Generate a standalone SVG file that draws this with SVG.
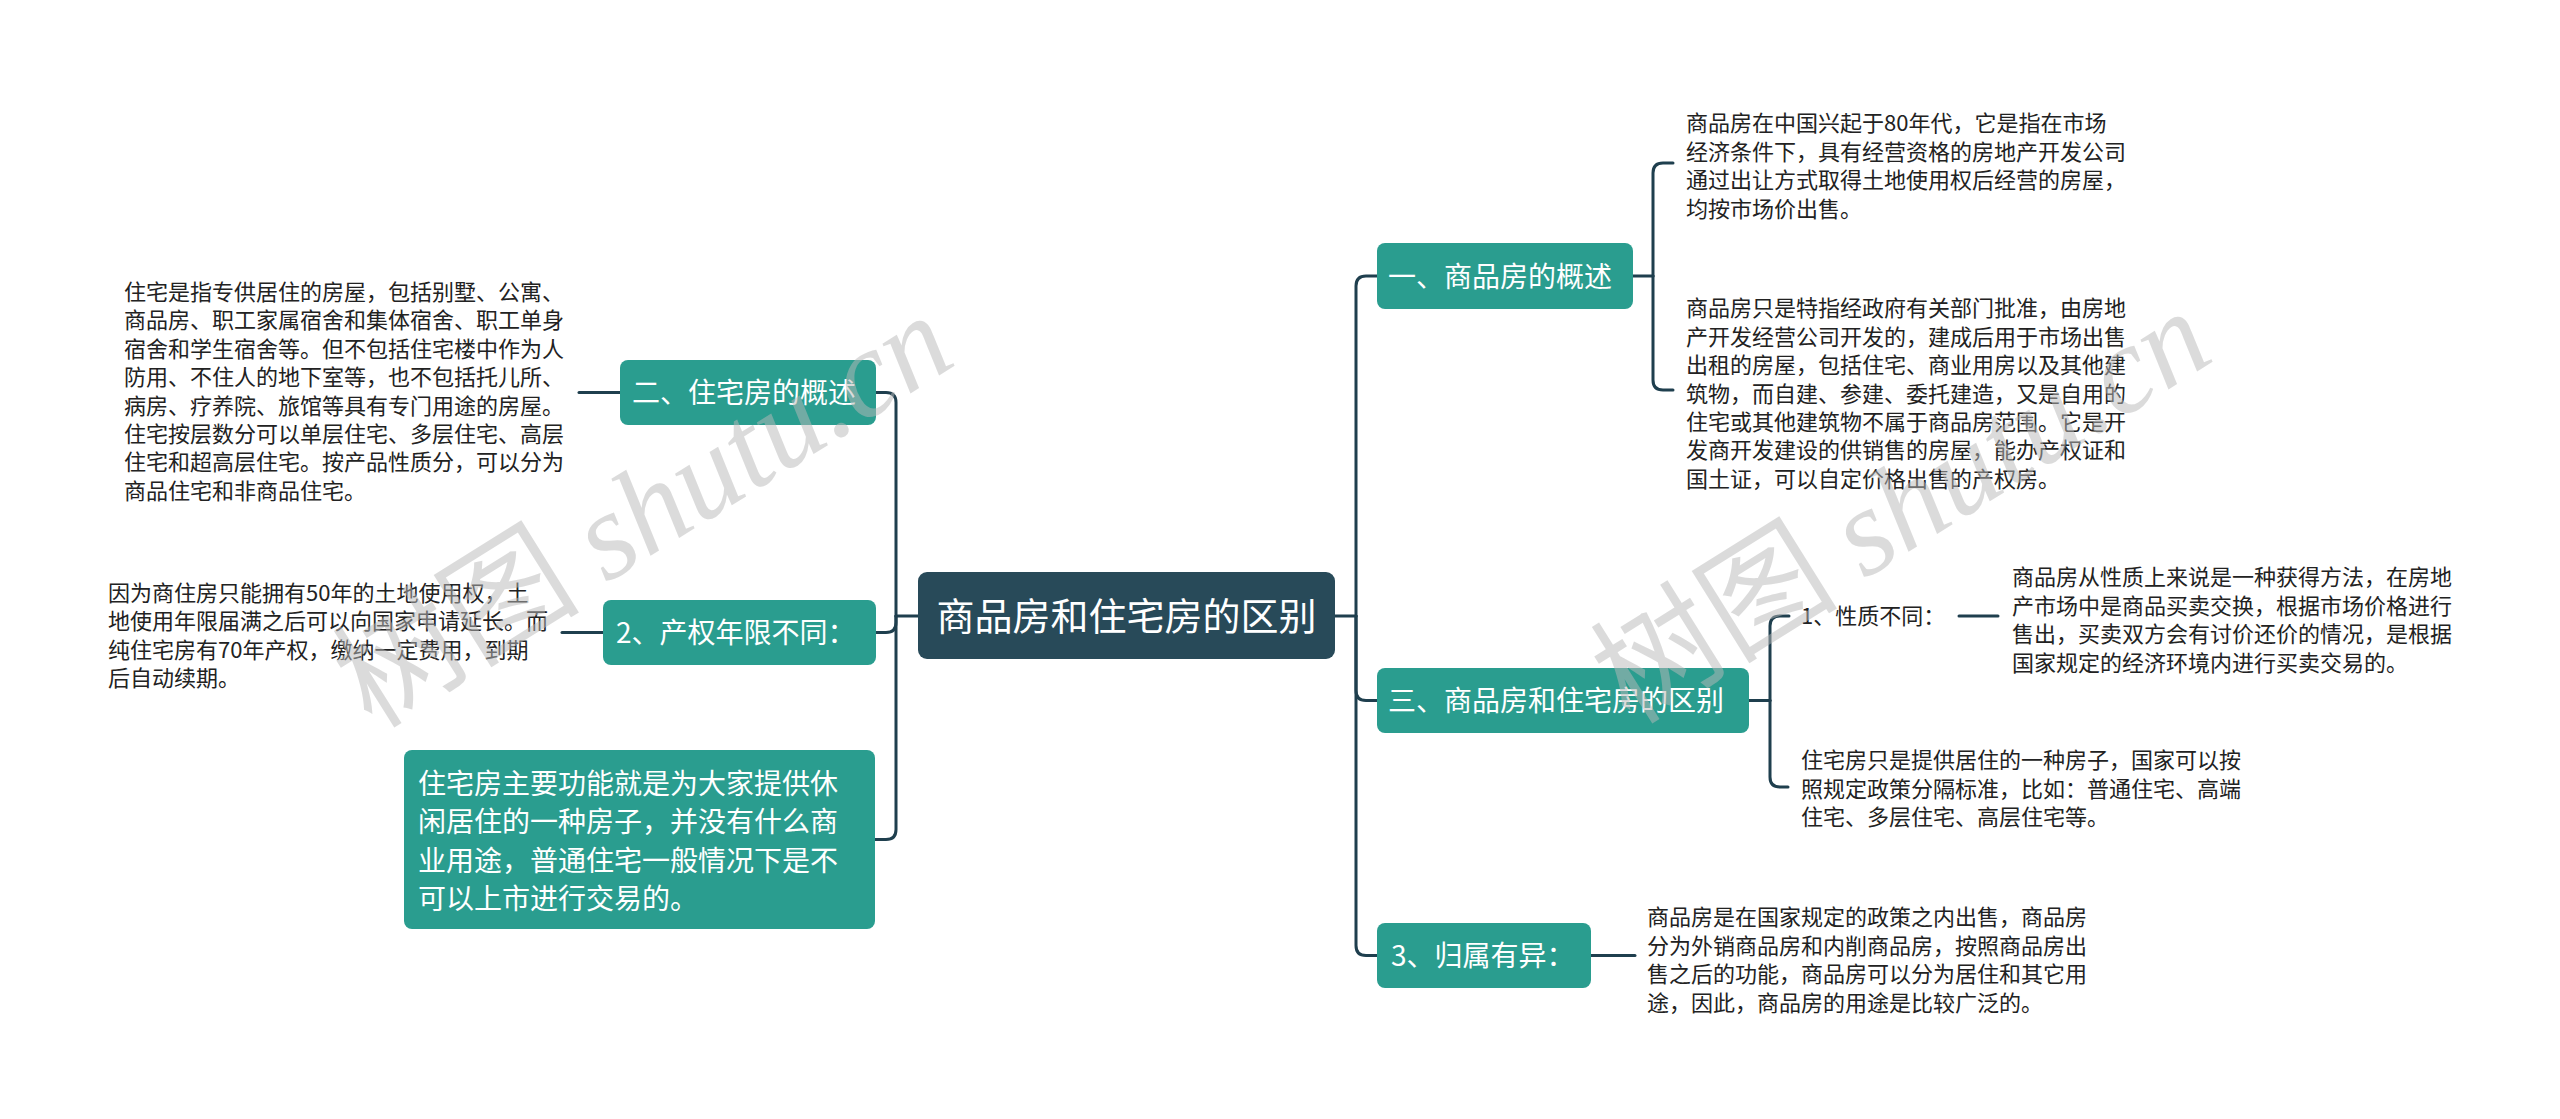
<svg xmlns="http://www.w3.org/2000/svg" width="2560" height="1119" viewBox="0 0 2560 1119">
<style>
.t{font-family:"Noto Sans CJK SC","Noto Sans",sans-serif;font-size:22px;fill:#222}
.n{fill:#2a9d8f}
.nt{font-family:"Noto Sans CJK SC","Noto Sans",sans-serif;font-size:28px;fill:#fff}
.c{fill:none;stroke:#1f3f4e;stroke-width:3;stroke-linecap:round}
.wm{font-size:124px;fill:#b9b9b9;opacity:0.5}
</style>
<rect width="2560" height="1119" fill="#fff"/>
<g id="connectors">
<path class="c" d="M918,616 H896"/>
<path class="c" d="M896,616 V402.5 Q896,392.5 886,392.5 H876"/>
<path class="c" d="M896,616 V622.5 Q896,632.5 886,632.5 H876"/>
<path class="c" d="M896,616 V829.5 Q896,839.5 886,839.5 H875"/>
<path class="c" d="M620,392.5 H579"/>
<path class="c" d="M603,632.5 H562"/>
<path class="c" d="M1335,616 H1356"/>
<path class="c" d="M1356,616 V286 Q1356,276 1366,276 H1377"/>
<path class="c" d="M1356,616 V690.5 Q1356,700.5 1366,700.5 H1377"/>
<path class="c" d="M1356,616 V945.5 Q1356,955.5 1366,955.5 H1377"/>
<path class="c" d="M1633,276 H1653"/>
<path class="c" d="M1653,276 V173 Q1653,163 1663,163 H1673"/>
<path class="c" d="M1653,276 V380 Q1653,390 1663,390 H1673"/>
<path class="c" d="M1749,700.5 H1770"/>
<path class="c" d="M1770,700.5 V626 Q1770,616 1780,616 H1789"/>
<path class="c" d="M1770,700.5 V777 Q1770,787 1780,787 H1788"/>
<path class="c" d="M1959,616 H1998"/>
<path class="c" d="M1591,955.5 H1635"/>
</g>
<g id="central">
<rect x="918" y="572" width="417" height="87" rx="9" fill="#284a59"/>
<text x="1126.5" y="630" text-anchor="middle" font-family="Noto Sans CJK SC, sans-serif" font-size="38" fill="#fff">商品房和住宅房的区别</text>
</g>
<g id="n-er">
<rect class="n" x="620" y="360" width="256" height="65" rx="8"/>
<text class="nt" x="632" y="403">二、住宅房的概述</text>
</g>
<g id="n-er-text">
<text class="t" x="124"><tspan x="124" y="300">住宅是指专供居住的房屋，包括别墅、公寓、</tspan><tspan x="124" y="328.4">商品房、职工家属宿舍和集体宿舍、职工单身</tspan><tspan x="124" y="356.8">宿舍和学生宿舍等。但不包括住宅楼中作为人</tspan><tspan x="124" y="385.2">防用、不住人的地下室等，也不包括托儿所、</tspan><tspan x="124" y="413.6">病房、疗养院、旅馆等具有专门用途的房屋。</tspan><tspan x="124" y="442">住宅按层数分可以单层住宅、多层住宅、高层</tspan><tspan x="124" y="470.4">住宅和超高层住宅。按产品性质分，可以分为</tspan><tspan x="124" y="498.8">商品住宅和非商品住宅。</tspan></text>
</g>
<g id="n-2">
<rect class="n" x="603" y="600" width="273" height="65" rx="8"/>
<text class="nt" x="616" y="643">2、产权年限不同：</text>
</g>
<g id="n-2-text">
<text class="t"><tspan x="108" y="601">因为商住房只能拥有50年的土地使用权，土</tspan><tspan x="108" y="629.4">地使用年限届满之后可以向国家申请延长。而</tspan><tspan x="108" y="657.8">纯住宅房有70年产权，缴纳一定费用，到期</tspan><tspan x="108" y="686.2">后自动续期。</tspan></text>
</g>
<g id="n-big">
<rect class="n" x="404" y="750" width="471" height="179" rx="8"/>
<text class="nt"><tspan x="418" y="793.6">住宅房主要功能就是为大家提供休</tspan><tspan x="418" y="832.1">闲居住的一种房子，并没有什么商</tspan><tspan x="418" y="870.6">业用途，普通住宅一般情况下是不</tspan><tspan x="418" y="909.1">可以上市进行交易的。</tspan></text>
</g>
<g id="n-yi">
<rect class="n" x="1377" y="243" width="256" height="66" rx="8"/>
<text class="nt" x="1388" y="286.6">一、商品房的概述</text>
</g>
<g id="n-yi-a">
<text class="t"><tspan x="1686" y="131.4">商品房在中国兴起于80年代，它是指在市场</tspan><tspan x="1686" y="159.8">经济条件下，具有经营资格的房地产开发公司</tspan><tspan x="1686" y="188.2">通过出让方式取得土地使用权后经营的房屋，</tspan><tspan x="1686" y="216.6">均按市场价出售。</tspan></text>
</g>
<g id="n-yi-b">
<text class="t"><tspan x="1686" y="316.4">商品房只是特指经政府有关部门批准，由房地</tspan><tspan x="1686" y="344.8">产开发经营公司开发的，建成后用于市场出售</tspan><tspan x="1686" y="373.2">出租的房屋，包括住宅、商业用房以及其他建</tspan><tspan x="1686" y="401.6">筑物，而自建、参建、委托建造，又是自用的</tspan><tspan x="1686" y="430">住宅或其他建筑物不属于商品房范围。它是开</tspan><tspan x="1686" y="458.4">发商开发建设的供销售的房屋，能办产权证和</tspan><tspan x="1686" y="486.8">国土证，可以自定价格出售的产权房。</tspan></text>
</g>
<g id="n-san">
<rect class="n" x="1377" y="668" width="372" height="65" rx="8"/>
<text class="nt" x="1388" y="711">三、商品房和住宅房的区别</text>
</g>
<g id="n-xingzhi">
<text class="t" x="1801" y="624.4">1、性质不同：</text>
</g>
<g id="n-xingzhi-text">
<text class="t"><tspan x="2012" y="585.4">商品房从性质上来说是一种获得方法，在房地</tspan><tspan x="2012" y="613.8">产市场中是商品买卖交换，根据市场价格进行</tspan><tspan x="2012" y="642.2">售出，买卖双方会有讨价还价的情况，是根据</tspan><tspan x="2012" y="670.6">国家规定的经济环境内进行买卖交易的。</tspan></text>
</g>
<g id="n-san-b">
<text class="t"><tspan x="1801" y="768.4">住宅房只是提供居住的一种房子，国家可以按</tspan><tspan x="1801" y="796.8">照规定政策分隔标准，比如：普通住宅、高端</tspan><tspan x="1801" y="825.2">住宅、多层住宅、高层住宅等。</tspan></text>
</g>
<g id="n-3">
<rect class="n" x="1377" y="923" width="214" height="65" rx="8"/>
<text class="nt" x="1391" y="966">3、归属有异：</text>
</g>
<g id="n-3-text">
<text class="t"><tspan x="1647" y="925.4">商品房是在国家规定的政策之内出售，商品房</tspan><tspan x="1647" y="953.8">分为外销商品房和内削商品房，按照商品房出</tspan><tspan x="1647" y="982.2">售之后的功能，商品房可以分为居住和其它用</tspan><tspan x="1647" y="1010.6">途，因此，商品房的用途是比较广泛的。</tspan></text>
</g>
<g id="watermarks">
<text class="wm" transform="translate(372,730) rotate(-32)"><tspan font-family="Noto Sans CJK SC, sans-serif">树图 </tspan><tspan font-family="Liberation Serif, serif" font-style="italic">shutu.cn</tspan></text>
<text class="wm" transform="translate(1630,726) rotate(-32)"><tspan font-family="Noto Sans CJK SC, sans-serif">树图 </tspan><tspan font-family="Liberation Serif, serif" font-style="italic">shutu.cn</tspan></text>
</g>
</svg>
